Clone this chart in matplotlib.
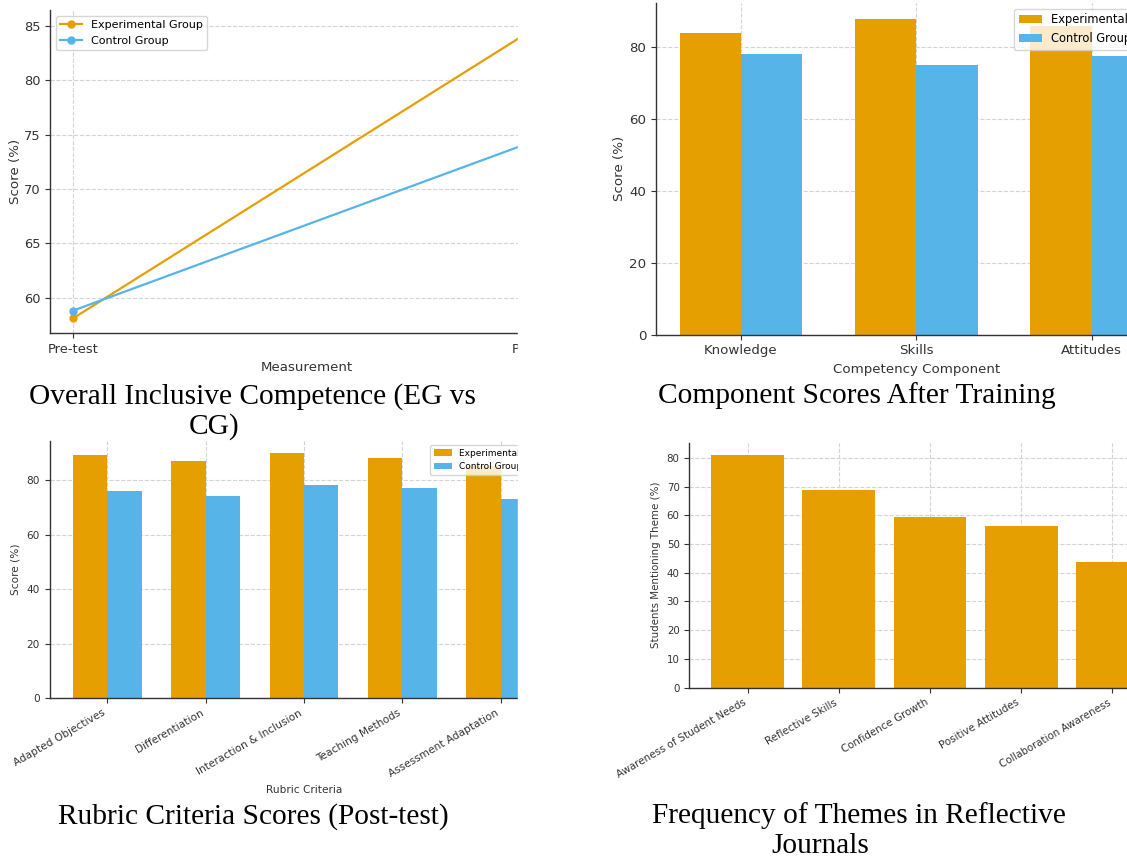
import numpy as np
import matplotlib
matplotlib.use("Agg")
import matplotlib.pyplot as plt
from matplotlib.patches import Rectangle

# data
stages = ["Pre-test", "Post-test"]
eg_overall = [58.1, 85.1]
cg_overall = [58.8, 74.6]

components = ["Knowledge", "Skills", "Attitudes"]
eg_components = [84, 88, 86]
cg_components = [78.2, 75.2, 77.6]

criteria = ["Adapted Objectives", "Differentiation", "Interaction & Inclusion",
            "Teaching Methods", "Assessment Adaptation"]
eg_criteria = [89, 87, 90, 88, 85]
cg_criteria = [76, 74, 78, 77, 73]

themes = ["Awareness of Student Needs", "Reflective Skills", "Confidence Growth",
          "Positive Attitudes", "Collaboration Awareness"]
theme_freq = [81.25, 68.75, 59.4, 56.25, 43.75]

EG = "#E69F00"
CG = "#56B4E9"
TXT = "#333333"

W, H = 1127, 856
fig = plt.figure(figsize=(W / 100, H / 100), dpi=100)
fig.patch.set_facecolor("white")


def axes_px(x0, y0, x1, y1):
    return fig.add_axes([x0 / W, 1 - y1 / H, (x1 - x0) / W, (y1 - y0) / H])


def style(ax, fs):
    for s in ["top", "right"]:
        ax.spines[s].set_visible(False)
    for s in ["left", "bottom"]:
        ax.spines[s].set_color(TXT)
        ax.spines[s].set_linewidth(1.0)
    ax.tick_params(labelsize=fs, colors=TXT, length=3.5, width=0.8)
    ax.grid(True, linestyle="--", color="#d4d4d4", linewidth=0.8)
    ax.set_axisbelow(True)


# panel 1: line chart
ax1 = axes_px(50, 10.3, 563.3, 332.8)
x = np.arange(len(stages))
ax1.plot(x, eg_overall, marker="o", ms=5, lw=1.6, color=EG, label="Experimental Group")
ax1.plot(x, cg_overall, marker="o", ms=5, lw=1.6, color=CG, label="Control Group")
ax1.set_xticks(x)
ax1.set_xticklabels(stages)
style(ax1, 9.4)
ax1.set_xlabel("Measurement", fontsize=9.6, color=TXT)
ax1.set_ylabel("Score (%)", fontsize=9.6, color=TXT, labelpad=1.5)
ax1.legend(loc="upper left", fontsize=8)

# panel 2: grouped bars
ax2 = axes_px(656, 2.8, 1176.6, 334.6)
w = 0.35
x = np.arange(len(components))
ax2.bar(x - w / 2, eg_components, w, color=EG, label="Experimental Group")
ax2.bar(x + w / 2, cg_components, w, color=CG, label="Control Group")
ax2.set_xticks(x)
ax2.set_xticklabels(components)
style(ax2, 9.6)
ax2.set_xlabel("Competency Component", fontsize=9.6, color=TXT)
ax2.set_ylabel("Score (%)", fontsize=9.6, color=TXT, labelpad=2)
ax2.legend(loc="upper right", fontsize=8.3)

# panel 3: rubric criteria
ax3 = axes_px(49.7, 440.5, 558.4, 698.1)
x = np.arange(len(criteria))
ax3.bar(x - w / 2, eg_criteria, w, color=EG, label="Experimental Group")
ax3.bar(x + w / 2, cg_criteria, w, color=CG, label="Control Group")
ax3.set_xticks(x)
ax3.set_xticklabels(criteria, rotation=30, ha="right")
style(ax3, 7.6)
ax3.set_xlabel("Rubric Criteria", fontsize=7.6, color=TXT)
ax3.set_ylabel("Score (%)", fontsize=7.6, color=TXT)
ax3.legend(loc="upper right", fontsize=6.5)

# panel 4: themes
ax4 = axes_px(689.3, 442.9, 1170.7, 687.5)
x = np.arange(len(themes))
ax4.bar(x, theme_freq, color=EG)
ax4.set_xticks(x)
ax4.set_xticklabels(themes, rotation=30, ha="right")
style(ax4, 7.4)
ax4.set_ylabel("Students Mentioning Theme (%)", fontsize=7.4, color=TXT)

# crop edge of the left-hand screenshots
fig.add_artist(Rectangle((518 / W, 1 - 380 / H), 82 / W, 380 / H,
                         transform=fig.transFigure, color="white", zorder=5))
fig.add_artist(Rectangle((518 / W, 1 - 800 / H), 82 / W, 370 / H,
                         transform=fig.transFigure, color="white", zorder=5))

# captions
cap = dict(family="Liberation Serif", fontsize=21.2, color="black",
           ha="left", va="baseline", zorder=10)
fig.text(29.3 / W, 1 - 403.3 / H, "Overall Inclusive Competence (EG vs", **cap)
fig.text(188.3 / W, 1 - 433.3 / H, "CG)", **cap)
fig.text(658.3 / W, 1 - 403.3 / H, "Component Scores After Training", **cap)
fig.text(57.5 / W, 1 - 823.5 / H, "Rubric Criteria Scores (Post-test)", **cap)
fig.text(651.7 / W, 1 - 823.3 / H, "Frequency of Themes in Reflective", **cap)
fig.text(771.7 / W, 1 - 853.3 / H, "Journals", **cap)

fig.savefig("out.png", dpi=100)
